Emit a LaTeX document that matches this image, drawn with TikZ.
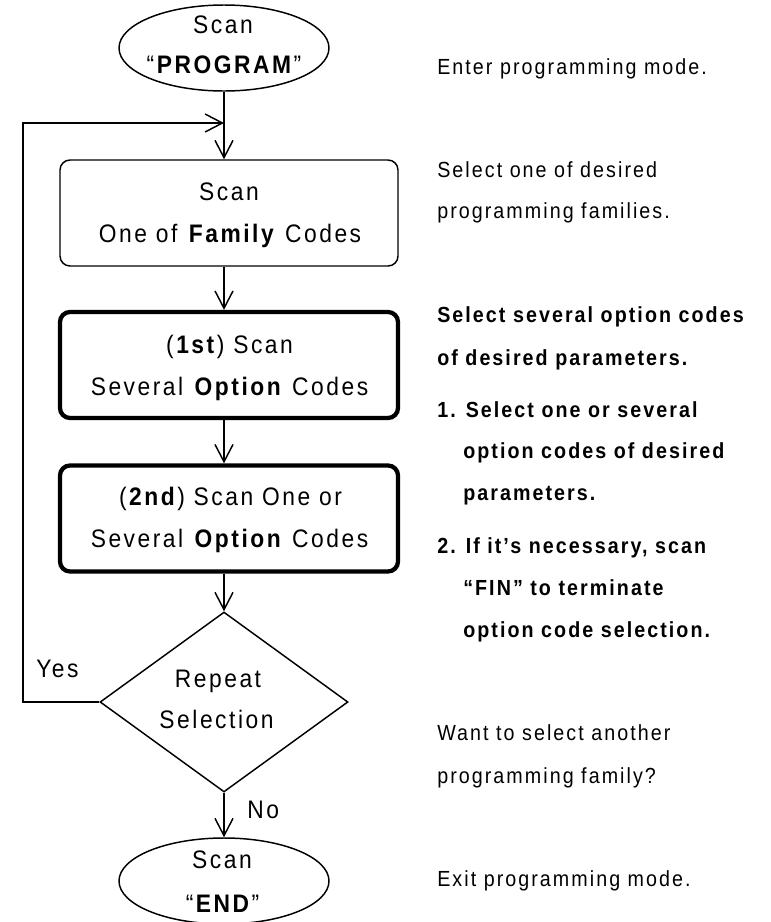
\documentclass[tikz,border=0pt]{standalone}
\usepackage{fontspec}
\usetikzlibrary{shapes.geometric,arrows.meta}
\newfontfamily\flowfont{Liberation Sans}[FakeStretch=0.9,LetterSpace=10]
\newfontfamily\notefont{Liberation Sans}[FakeStretch=0.9,LetterSpace=9.4]
\begin{document}
\begin{tikzpicture}[x=0.75pt,y=-0.75pt,
  thin/.style={line width=1.1pt},
  arr/.style={line width=1.1pt,-{Straight Barb[length=13pt,width=13.5pt]}},
  termnode/.style={ellipse,draw,line width=1.1pt,minimum width=210*0.75pt,minimum height=86*0.75pt,inner sep=0pt},
  stepbox/.style={rectangle,draw,rounded corners=7.5pt,line width=1.1pt,minimum width=338*0.75pt,minimum height=106*0.75pt,inner sep=0pt},
  thickbox/.style={stepbox,line width=3.2pt},
  decision/.style={diamond,draw,line width=1.1pt,minimum width=248*0.75pt,minimum height=180*0.75pt,inner sep=0pt},
  fctext/.style={font=\flowfont\fontsize{19}{22}\selectfont,anchor=base,inner sep=0pt},
  lbl/.style={font=\flowfont\fontsize{19}{22}\selectfont,anchor=base west,inner sep=0pt},
  note/.style={font=\notefont\fontsize{16.4}{20}\selectfont,anchor=base west,inner sep=0pt}]
\useasboundingbox (0,0) rectangle (771,922);

% shapes
\node[termnode] (start) at (224,48) {};
\node[stepbox] (box1) at (229,213) {};
\node[thickbox] (box2) at (229,365) {};
\node[thickbox] (box3) at (229,518.5) {};
\node[decision] (dec) at (224,702) {};
\node[termnode] (stop) at (224,881) {};

% texts in shapes
\node[fctext] (s1) at (223,33) {Scan};
\node[fctext] (s2) at (224,73) {“\textbf{PROGRAM}”};
\node[fctext] (b1a) at (229,200) {Scan};
\node[fctext] (b1b) at (230,242) {One of \textbf{Family} Codes};
\node[fctext] (b2a) at (229.5,353) {(\textbf{1st}) Scan};
\node[fctext] (b2b) at (229.5,395) {Several \textbf{Option} Codes};
\node[fctext] (b3a) at (230.5,505) {(\textbf{2nd}) Scan One or};
\node[fctext] (b3b) at (229.5,547) {Several \textbf{Option} Codes};
\node[fctext] (d1) at (218,687) {Repeat};
\node[fctext] (d2) at (216.5,728) {Selection};
\node[fctext] (e1) at (222,868) {Scan};
\node[fctext] (e2) at (222.5,912) {“\textbf{END}”};
\node[lbl] (yes) at (36,677) {Yes};
\node[lbl] (no) at (247,818) {No};

% connectors
\coordinate (j) at (224,123);
\coordinate (lp1) at (23,702);
\coordinate (lp2) at (23,123);
\draw[thin] (start.south) -- (j);
\draw[arr] (j) -- (box1.north -| j);
\draw[arr] (box1.south -| j) -- (box2.north -| j);
\draw[arr] (box2.south -| j) -- (box3.north -| j);
\draw[arr] (box3.south -| j) -- (dec.north);
\draw[arr] (dec.south) -- (stop.north);
\draw[arr] (dec.west) -- (lp1) -- (lp2) -- (j);

% notes
\node[note] (n1) at (437,74) {Enter programming mode.};
\node[note] (n2) at (437,177) {Select one of desired};
\node[note] (n3) at (437,218) {programming families.};
\node[note] (n4) at (437,322) {\textbf{Select several option codes}};
\node[note] (n5) at (437,365) {\textbf{of desired parameters.}};
\node[note] (n6) at (437,417) {\textbf{1. Select one or several}};
\node[note] (n7) at (463,458) {\textbf{option codes of desired}};
\node[note] (n8) at (463,500) {\textbf{parameters.}};
\node[note] (n9) at (437,553) {\textbf{2. If it’s necessary, scan}};
\node[note] (n10) at (463,595) {\textbf{“FIN” to terminate}};
\node[note] (n11) at (463,637) {\textbf{option code selection.}};
\node[note] (n12) at (437,740) {Want to select another};
\node[note] (n13) at (437,783) {programming family?};
\node[note] (n14) at (437,886) {Exit programming mode.};
\end{tikzpicture}
\end{document}
